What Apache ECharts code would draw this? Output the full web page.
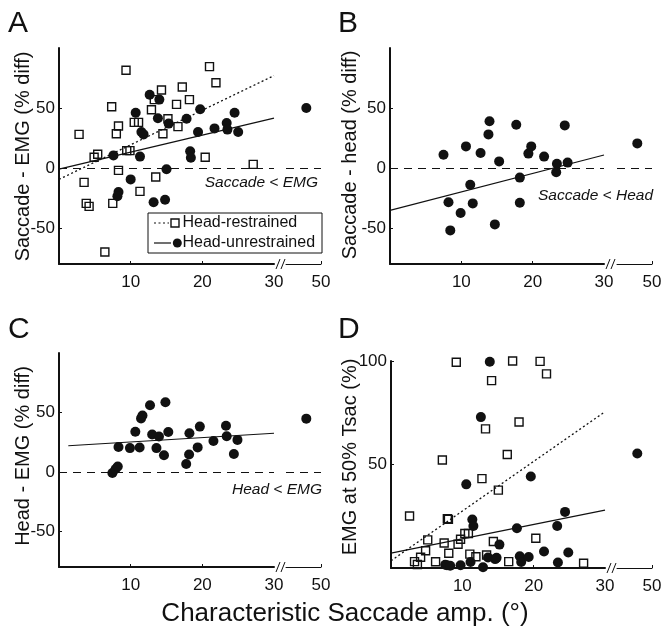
<!DOCTYPE html>
<html><head><meta charset="utf-8">
<script src="https://cdn.jsdelivr.net/npm/echarts@6/dist/echarts.min.js"></script>
<style>html,body{margin:0;padding:0;background:#fff}#c{width:661px;height:632px}</style>
</head><body><div id="c"></div>
<script>
// ---------------- DATA ----------------
// Panel A: Saccade - EMG (% diff)
const ampR_A = [2.8, 3.5, 3.8, 4.2, 4.9, 5.4, 6.4, 7.35, 7.5, 8.3, 8.0, 8.3, 9.35, 9.45, 9.9, 10.5, 11.1, 11.3, 12.9, 13.3, 13.5, 14.3, 14.5, 15.2, 16.4, 16.6, 17.2, 18.2, 20.4, 21.0, 21.9, 27.1];
const valR_A = [28, -12, -29.5, -32, 9, 11.5, -70, 51, -29.5, 35, 28.5, -2, 81.5, 14.5, 14.5, 38, 38, -19.5, 48.5, 57, -7.5, 65, 28.5, 41, 53, 34.5, 67.5, 57, 9, 84.5, 71, 3];
const ampU_A = [7.6, 8.3, 8.15, 10.0, 10.7, 11.3, 11.5, 11.8, 12.65, 13.2, 13.8, 14.0, 14.8, 15.0, 15.3, 17.8, 18.3, 18.4, 19.4, 19.7, 21.7, 23.4, 23.5, 24.5, 25.0, 45.8];
const valU_A = [10.5, -20, -23.5, -9.5, 46, 9.5, 30, 28, 61, -28.5, 41.5, 57, -26.5, -1, 37, 41, 14, 8.5, 30, 49, 33, 37.5, 32, 46, 30, 50];
const fitR_A_x = [0, 30], fitR_A_y = [-9.5, 77];
const fitU_A_x = [0, 30], fitU_A_y = [-1, 41.5];

// Panel B: Saccade - head (% diff)
const ampU_B = [7.5, 8.2, 8.45, 9.9, 10.65, 11.25, 11.6, 12.7, 13.8, 13.95, 14.7, 15.3, 17.7, 18.2, 18.2, 19.4, 19.8, 21.6, 23.4, 23.3, 24.5, 24.9, 45.8];
const valU_B = [11, -28.5, -52, -37.5, 18, -14, -29.5, 12.5, 28, 39, -47, 5.5, 36, -8, -29, 12, 18, 9.5, 3.5, -3.5, 35.5, 4.5, 20.5];
const fitU_B_x = [0, 30], fitU_B_y = [-35.3, 10.8];

// Panel C: Head - EMG (% diff)
const ampU_C = [7.45, 7.9, 8.2, 8.3, 9.9, 10.65, 11.25, 11.45, 11.65, 12.7, 13.0, 13.6, 13.95, 14.65, 14.85, 15.25, 17.75, 18.15, 18.2, 19.35, 19.65, 21.55, 23.3, 23.4, 24.4, 24.9, 45.8];
const valU_C = [-1, 2.5, 4.5, 21, 20, 33.8, 20.5, 45, 47.5, 56, 31.5, 20, 29.7, 14, 58.6, 33.6, 6.7, 14.7, 32.5, 20.6, 38.1, 26, 38.8, 30, 15.1, 26.9, 44.8];
const fitU_C_x = [1.3, 30], fitU_C_y = [22, 32.5];

// Panel D: EMG at 50% Tsac (%)
const ampR_D = [2.6, 3.3, 3.7, 4.15, 4.85, 5.15, 6.25, 7.2, 7.45, 8.1, 7.9, 8.05, 9.15, 9.4, 9.75, 10.35, 10.85, 11.05, 11.9, 12.75, 13.25, 13.4, 14.1, 14.35, 15.05, 16.3, 16.5, 17.05, 17.95, 20.3, 20.9, 21.8, 27.0];
const valR_D = [25.1, 3.1, 1.7, 5.2, 8.3, 13.6, 3.0, 52.2, 12.1, 7.1, 23.8, 23.5, 99.4, 11.5, 13.9, 16.7, 16.7, 6.7, 5.4, 43.2, 67.2, 6.25, 90.5, 12.8, 37.6, 54.8, 3.1, 100, 70.5, 14.4, 99.8, 93.8, 2.3];
const ampU_D = [7.6, 7.85, 8.3, 9.75, 10.55, 11.15, 11.4, 11.55, 12.6, 12.9, 13.6, 13.85, 14.6, 14.8, 15.2, 17.65, 18.05, 18.25, 19.3, 19.6, 21.45, 23.3, 23.4, 24.4, 24.85, 45.8];
const valU_D = [1.6, 1.3, 1.1, 1.3, 40.4, 2.9, 23.4, 20.3, 72.9, 0.4, 5.1, 99.6, 4.3, 4.9, 11.3, 19.2, 5.7, 2.9, 5.3, 44.2, 8.0, 20.3, 2.7, 27.1, 7.5, 55.3];
const fitR_D_x = [0, 30], fitR_D_y = [3.5, 75.5];
const fitU_D_x = [0, 30], fitU_D_y = [7.2, 28];

// Tick labels
const yTicksDiff = [-50, 0, 50];
const yTicksD = [50, 100];
const xTicksMain = [10, 20, 30];
const xTicksBreak = [50];
const legendNames = ['Head-restrained', 'Head-unrestrained'];
const xTitle = 'Characteristic Saccade amp. (\u00B0)';

// ---------------- LAYOUT ----------------
const FONT = '"Liberation Sans", Arial, Helvetica, sans-serif';
const INK = '#111111';
const BREAK_AT = 30;

const panels = [
  {label: 'A', lx: 8, ly: 24, box: {left: 59, top: 48, w: 215, h: 216, bLeft: 286, bW: 35},
   yMin: -80, yMax: 100, yTicks: yTicksDiff, yName: 'Saccade - EMG (% diff)', nx: 23, ny: 156.5,
   sq: [ampR_A, valR_A], ci: [ampU_A, valU_A], fits: [[fitR_A_x, fitR_A_y, true], [fitU_A_x, fitU_A_y, false]],
   zero: true, note: 'Saccade < EMG', noteX: 318, noteY: 183},
  {label: 'B', lx: 338, ly: 24, box: {left: 390, top: 48, w: 214, h: 216, bLeft: 617, bW: 35},
   yMin: -80, yMax: 100, yTicks: yTicksDiff, yName: 'Saccade - head (% diff)', nx: 350, ny: 155,
   sq: null, ci: [ampU_B, valU_B], fits: [[fitU_B_x, fitU_B_y, false]],
   zero: true, note: 'Saccade < Head', noteX: 653, noteY: 196},
  {label: 'C', lx: 8, ly: 330, box: {left: 59, top: 353, w: 215, h: 214, bLeft: 286, bW: 35},
   yMin: -80, yMax: 100, yTicks: yTicksDiff, yName: 'Head - EMG (% diff)', nx: 23, ny: 456,
   sq: null, ci: [ampU_C, valU_C], fits: [[fitU_C_x, fitU_C_y, false]],
   zero: true, note: 'Head < EMG', noteX: 322, noteY: 490},
  {label: 'D', lx: 338, ly: 330, box: {left: 391, top: 361, w: 214, h: 207, bLeft: 617, bW: 35},
   yMin: 0, yMax: 100, yTicks: yTicksD, yName: 'EMG at 50% Tsac (%)', nx: 350, ny: 457,
   sq: [ampR_D, valR_D], ci: [ampU_D, valU_D], fits: [[fitR_D_x, fitR_D_y, true], [fitU_D_x, fitU_D_y, false]],
   zero: false}
];

const grids = [], xAxes = [], yAxes = [], series = [], graphics = [];
const zeroLine = {silent: true, symbol: ['none', 'none'], label: {show: false},
  lineStyle: {type: [8, 6], color: INK, width: 1, opacity: 1}, data: [{yAxis: 0}]};

function pts(xs, ys, brk) {
  const out = [];
  for (let i = 0; i < xs.length; i++) {
    if ((xs[i] > BREAK_AT) === brk) out.push([xs[i], ys[i]]);
  }
  return out;
}

panels.forEach((p, i) => {
  const b = p.box;
  const gMain = 2 * i, gBrk = 2 * i + 1;
  grids.push({left: b.left, top: b.top, width: b.w, height: b.h, containLabel: false, outerBoundsMode: 'none'});
  grids.push({left: b.bLeft, top: b.top, width: b.bW, height: b.h, containLabel: false, outerBoundsMode: 'none'});
  const lblStyle = {color: INK, fontFamily: FONT, fontSize: 17};
  xAxes.push({type: 'value', gridIndex: gMain, min: 0, max: BREAK_AT, position: 'bottom',
    axisLine: {onZero: false, lineStyle: {color: INK, width: 2}},
    axisTick: {inside: true, length: 3, customValues: [10, 20], lineStyle: {color: INK}},
    axisLabel: Object.assign({customValues: xTicksMain, margin: 10}, lblStyle),
    splitLine: {show: false}});
  xAxes.push({type: 'value', gridIndex: gBrk, min: 40, max: 50, position: 'bottom',
    axisLine: {onZero: false, lineStyle: {color: INK, width: 1}},
    axisTick: {inside: true, length: 3, customValues: xTicksBreak, lineStyle: {color: INK}},
    axisLabel: Object.assign({customValues: xTicksBreak, margin: 10}, lblStyle),
    splitLine: {show: false}});
  yAxes.push({type: 'value', gridIndex: gMain, min: p.yMin, max: p.yMax,
    axisLine: {onZero: false, lineStyle: {color: INK, width: 2}},
    axisTick: {inside: true, length: 3, customValues: p.yTicks, lineStyle: {color: INK}},
    axisLabel: Object.assign({customValues: p.yTicks, margin: 4}, lblStyle),
    splitLine: {show: false}});
  yAxes.push({type: 'value', gridIndex: gBrk, min: p.yMin, max: p.yMax, show: false, splitLine: {show: false}});

  // fits
  p.fits.forEach(f => {
    series.push({type: 'line', xAxisIndex: gMain, yAxisIndex: gMain, showSymbol: false, silent: true,
      data: f[0].map((x, k) => [x, f[1][k]]), z: 2,
      lineStyle: {color: INK, width: f[2] ? 1.3 : 1.2, type: f[2] ? [2, 2.5] : 'solid', opacity: 1}});
  });
  // squares
  if (p.sq) {
    [false, true].forEach(brk => {
      const d = pts(p.sq[0], p.sq[1], brk);
      if (!d.length) return;
      const gi = brk ? gBrk : gMain;
      series.push({type: 'scatter', xAxisIndex: gi, yAxisIndex: gi, symbol: 'rect', symbolSize: 8, z: 3,
        itemStyle: {color: 'rgba(255,255,255,0)', borderColor: INK, borderWidth: 1.4, opacity: 1}, data: d});
    });
  }
  // circles (+ zero reference line)
  [false, true].forEach(brk => {
    const d = pts(p.ci[0], p.ci[1], brk);
    const gi = brk ? gBrk : gMain;
    const s = {type: 'scatter', xAxisIndex: gi, yAxisIndex: gi, symbol: 'circle', symbolSize: 10, z: 4,
      itemStyle: {color: INK, opacity: 1}, data: d};
    if (p.zero) s.markLine = zeroLine;
    series.push(s);
  });

  // panel letter
  graphics.push({type: 'text', x: p.lx, y: p.ly, style: {text: p.label, fontFamily: FONT, fontSize: 30,
    fill: INK, align: 'left', verticalAlign: 'middle'}});
  // y title
  graphics.push({type: 'text', x: p.nx, y: p.ny, rotation: Math.PI / 2, style: {text: p.yName, fontFamily: FONT,
    fontSize: 20, fill: INK, align: 'center', verticalAlign: 'middle'}});
  // note
  if (p.note) {
    graphics.push({type: 'text', x: p.noteX, y: p.noteY, style: {text: p.note, fontFamily: FONT, fontSize: 15.5,
      fontStyle: 'italic', fill: INK, align: 'right', verticalAlign: 'middle'}});
  }
  // axis break marks "//"
  const ay = b.top + b.h;
  const bx = b.left + b.w;
  graphics.push({type: 'line', shape: {x1: bx + 2, y1: ay + 5, x2: bx + 6, y2: ay - 5}, style: {stroke: INK, lineWidth: 1}});
  graphics.push({type: 'line', shape: {x1: bx + 7, y1: ay + 5, x2: bx + 11, y2: ay - 5}, style: {stroke: INK, lineWidth: 1}});
});

// legend (panel A)
const L = {x: 148, y: 213, w: 174, h: 40};
graphics.push({type: 'rect', shape: {x: L.x, y: L.y, width: L.w, height: L.h}, style: {fill: '#fff', stroke: INK, lineWidth: 1}, z: 10});
graphics.push({type: 'line', shape: {x1: 154, y1: 223, x2: 169, y2: 223}, style: {stroke: INK, lineWidth: 1.2, lineDash: [2, 2.5]}, z: 11});
graphics.push({type: 'rect', shape: {x: 171, y: 219, width: 8, height: 8}, style: {fill: 'none', stroke: INK, lineWidth: 1.4}, z: 11});
graphics.push({type: 'text', x: 182.5, y: 223, style: {text: legendNames[0], fontFamily: FONT, fontSize: 16, fill: INK, align: 'left', verticalAlign: 'middle'}, z: 11});
graphics.push({type: 'line', shape: {x1: 154, y1: 243, x2: 171, y2: 243}, style: {stroke: INK, lineWidth: 1.2}, z: 11});
graphics.push({type: 'circle', shape: {cx: 177.3, cy: 243, r: 4.5}, style: {fill: INK}, z: 11});
graphics.push({type: 'text', x: 182.5, y: 243, style: {text: legendNames[1], fontFamily: FONT, fontSize: 16, fill: INK, align: 'left', verticalAlign: 'middle'}, z: 11});

// shared x title
graphics.push({type: 'text', x: 345, y: 614, style: {text: xTitle, fontFamily: FONT, fontSize: 26, fill: INK, align: 'center', verticalAlign: 'middle'}});

const chart = echarts.init(document.getElementById('c'), null, {renderer: 'canvas'});
chart.setOption({
  animation: false,
  backgroundColor: '#fff',
  textStyle: {fontFamily: FONT},
  grid: grids, xAxis: xAxes, yAxis: yAxes, series: series, graphic: graphics
});
</script>
</body></html>
